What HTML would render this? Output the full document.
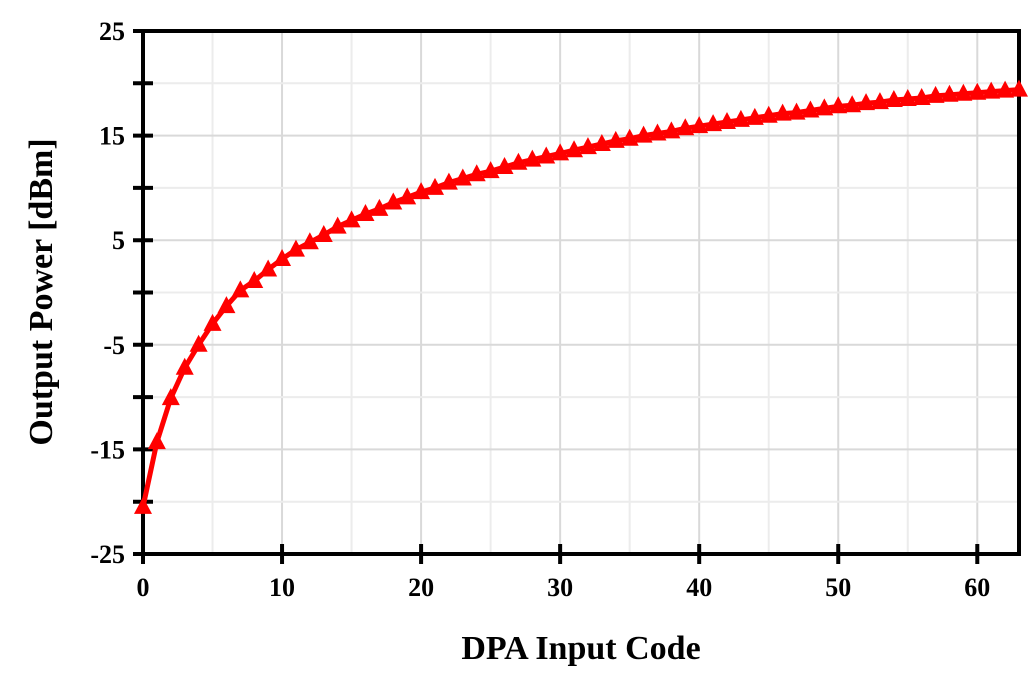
<!DOCTYPE html>
<html><head><meta charset="utf-8"><style>
body{margin:0;background:#fff;}
svg text{font-family:"Liberation Serif",serif;font-weight:bold;fill:#000;}
</style></head><body>
<svg width="1035" height="681" viewBox="0 0 1035 681" xmlns="http://www.w3.org/2000/svg" id="chart"></svg>
<script>
const codes=[];for(let i=0;i<=63;i++)codes.push(i);
const power=[-20.5,-14.3,-10.1,-7.2,-5,-3,-1.3,0.2,1.1,2.2,3.2,4.1,4.8,5.5,6.3,6.9,7.5,8,8.6,9.1,9.6,10,10.5,10.9,11.3,11.6,12,12.4,12.7,13,13.3,13.6,13.9,14.2,14.5,14.7,15,15.2,15.4,15.7,15.9,16.1,16.3,16.5,16.7,16.9,17.1,17.2,17.4,17.6,17.8,17.9,18.1,18.2,18.4,18.5,18.6,18.8,18.9,19,19.1,19.2,19.3,19.4];
const xTicks=[0,10,20,30,40,50,60];
const yTicks=[-25,-15,-5,5,15,25];
const L=143,R=1019,T=31,B=554,XMAX=63,YMIN=-25,YMAX=25;
const sx=v=>L+(v/XMAX)*(R-L);
const sy=v=>B-(v-YMIN)/(YMAX-YMIN)*(B-T);
const svg=document.getElementById('chart');const NS='http://www.w3.org/2000/svg';
function mk(t,a,p){const e=document.createElementNS(NS,t);for(const k in a)e.setAttribute(k,a[k]);(p||svg).appendChild(e);return e;}
// grid
for(let v=5;v<=60;v+=5){const g=mk('line',{x1:sx(v),x2:sx(v),y1:T,y2:B,stroke:v%10?'#ececec':'#d9d9d9','stroke-width':2});

}
for(let v=-20;v<25;v+=5){const g=mk('line',{x1:L,x2:R,y1:sy(v),y2:sy(v),stroke:v%10?'#d9d9d9':'#ececec','stroke-width':2});

}
// frame
const fr=mk('rect',{x:L,y:T,width:R-L,height:B-T,fill:'none',stroke:'#000','stroke-width':4});


// ticks
for(let v=-25;v<=25;v+=5){const t=mk('line',{x1:L-10,x2:L+10,y1:sy(v),y2:sy(v),stroke:'#000','stroke-width':4});

}
xTicks.forEach(v=>{const t=mk('line',{x1:sx(v),x2:sx(v),y1:B-10,y2:B+10,stroke:'#000','stroke-width':4});


const lb=mk('text',{x:sx(v),y:B+42,'text-anchor':'middle','font-size':26});lb.textContent=v;

});
yTicks.forEach(v=>{const lb=mk('text',{x:L-18,y:sy(v)+9,'text-anchor':'end','font-size':26});lb.textContent=v;

});
// line
const pl=mk('polyline',{points:codes.map((c,i)=>sx(c)+','+sy(power[i])).join(' '),fill:'none',stroke:'#f00','stroke-width':5});


codes.forEach((c,i)=>{const x=sx(c),y=sy(power[i]);
const m=mk('polygon',{points:`${x},${y-10} ${x-9},${y+7} ${x+9},${y+7}`,fill:'#f00'});

});
const xt=mk('text',{x:581,y:659,'text-anchor':'middle','font-size':34});xt.textContent='DPA Input  Code';


const yt=mk('text',{x:0,y:0,'text-anchor':'middle','font-size':34,transform:'translate(52,292) rotate(-90)'});yt.textContent='Output  Power [dBm]';


</script>
</body></html>
